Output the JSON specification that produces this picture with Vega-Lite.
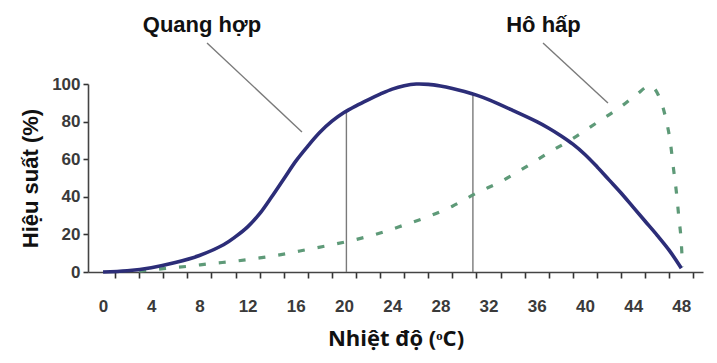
{
  "$schema": "https://vega.github.io/schema/vega-lite/v6.json",
  "autosize": "none",
  "width": 615,
  "height": 188,
  "padding": {"left": 88, "top": 84, "right": 14, "bottom": 91},
  "background": "white",
  "config": {"view": {"stroke": null}},
  "encoding": {
    "x": {"field": "x", "type": "quantitative", "scale": {"domain": [-1.25, 49.8], "nice": false, "zero": false},
      "axis": {
        "values": [0, 2, 4, 6, 8, 10, 12, 14, 16, 18, 20, 22, 24, 26, 28, 30, 32, 34, 36, 38, 40, 42, 44, 46, 48],
        "labelExpr": "datum.value % 4 == 0 ? datum.label : ''",
        "tickOffset": 12, "labelOffset": -12,
        "grid": false, "tickSize": 6, "tickWidth": 1.6, "tickColor": "#333",
        "domainColor": "#444", "domainWidth": 1.6,
        "labelFont": "Liberation Sans", "labelFontSize": 17, "labelFontWeight": "bold", "labelColor": "#3a3a3a",
        "labelPadding": 20, "labelOverlap": false,
        "title": "Nhiệt độ (ᵒC)", "titleFont": "Open Sans", "titleFontSize": 22, "titleFontWeight": "bold", "titleColor": "#111", "titlePadding": 14
      }},
    "y": {"field": "y", "type": "quantitative", "scale": {"domain": [0, 100], "nice": false, "zero": false},
      "axis": {
        "values": [0, 20, 40, 60, 80, 100],
        "grid": false, "tickSize": 5, "tickWidth": 1.6, "tickColor": "#333",
        "domainColor": "#444", "domainWidth": 1.6,
        "labelFont": "Liberation Sans", "labelFontSize": 17, "labelFontWeight": "bold", "labelColor": "#3a3a3a",
        "labelPadding": 3, "labelOverlap": false, "labelBound": false, "labelFlush": false,
        "title": "Hiệu suất (%)", "titleFont": "Liberation Sans", "titleFontSize": 22, "titleFontWeight": "bold", "titleColor": "#111", "titlePadding": 9
      }}
  },
  "layer": [
    {
      "data": {"values": [
        {"x": 20.2, "y": 0, "x2": 20.2, "y2": 85.2},
        {"x": 30.7, "y": 0, "x2": 30.7, "y2": 94.6},
        {"x": 8.63, "y": 121.8, "x2": 16.51, "y2": 74.5},
        {"x": 36.52, "y": 121.8, "x2": 41.91, "y2": 89.9}
      ]},
      "mark": {"type": "rule", "color": "#7a7a7a", "strokeWidth": 1.4},
      "encoding": {
        "x2": {"field": "x2"},
        "y2": {"field": "y2"}
      }
    },
    {
      "data": {"values": [
        {"x": 3, "y": 0.4}, {"x": 5, "y": 1.8}, {"x": 7, "y": 3}, {"x": 9, "y": 4.5},
        {"x": 11, "y": 5.8}, {"x": 13, "y": 7.5}, {"x": 15, "y": 9.5}, {"x": 17, "y": 12},
        {"x": 19, "y": 14.5}, {"x": 21, "y": 17.3}, {"x": 23, "y": 20.7}, {"x": 25, "y": 25},
        {"x": 27, "y": 29.5}, {"x": 29, "y": 35}, {"x": 31, "y": 42}, {"x": 33, "y": 48},
        {"x": 35, "y": 55.5}, {"x": 37, "y": 63.5}, {"x": 39, "y": 71}, {"x": 41, "y": 79.5},
        {"x": 43, "y": 88}, {"x": 44.3, "y": 94.5}, {"x": 45.4, "y": 99}, {"x": 46.1, "y": 94},
        {"x": 46.7, "y": 82}, {"x": 47.1, "y": 68.5}, {"x": 47.35, "y": 55}, {"x": 47.6, "y": 42},
        {"x": 47.8, "y": 28.7}, {"x": 48, "y": 15.4}, {"x": 48.1, "y": 2.7}
      ]},
      "mark": {"type": "line", "color": "#5e9a78", "strokeWidth": 3.2, "strokeDash": [7, 13], "interpolate": "monotone"},
      "encoding": {}
    },
    {
      "data": {"values": [
        {"x": 0, "y": 0}, {"x": 2, "y": 0.7}, {"x": 4, "y": 2.3}, {"x": 6, "y": 5},
        {"x": 8, "y": 8.8}, {"x": 10, "y": 14.5}, {"x": 11, "y": 18.8}, {"x": 12, "y": 24},
        {"x": 13, "y": 31}, {"x": 14, "y": 40}, {"x": 15, "y": 49.5}, {"x": 16, "y": 59},
        {"x": 17, "y": 67}, {"x": 18, "y": 74.3}, {"x": 19, "y": 80.2}, {"x": 20, "y": 84.8},
        {"x": 21, "y": 88.4}, {"x": 22, "y": 91.6}, {"x": 23, "y": 94.6}, {"x": 24, "y": 97.3},
        {"x": 25, "y": 99.1}, {"x": 26, "y": 100}, {"x": 27, "y": 99.8}, {"x": 28, "y": 98.9},
        {"x": 29, "y": 97.6}, {"x": 30, "y": 96}, {"x": 31, "y": 94.1}, {"x": 32, "y": 91.7},
        {"x": 34, "y": 86}, {"x": 36, "y": 80}, {"x": 37, "y": 76.5}, {"x": 38, "y": 72.5},
        {"x": 39, "y": 68}, {"x": 40, "y": 62.5}, {"x": 41, "y": 56}, {"x": 42, "y": 49},
        {"x": 43, "y": 42}, {"x": 44, "y": 34.5}, {"x": 45, "y": 27}, {"x": 46, "y": 19.5},
        {"x": 47, "y": 11.5}, {"x": 48, "y": 2}
      ]},
      "mark": {"type": "line", "color": "#2c2d78", "strokeWidth": 3.6, "interpolate": "catmull-rom"},
      "encoding": {}
    },
    {
      "data": {"values": [
        {"x": 8.21, "y": 127.7, "label": "Quang hợp"},
        {"x": 36.56, "y": 127.7, "label": "Hô hấp"}
      ]},
      "mark": {"type": "text", "font": "Liberation Sans", "fontSize": 22, "fontWeight": "bold", "color": "#111", "align": "center", "baseline": "alphabetic"},
      "encoding": {
        "text": {"field": "label"}
      }
    }
  ]
}
